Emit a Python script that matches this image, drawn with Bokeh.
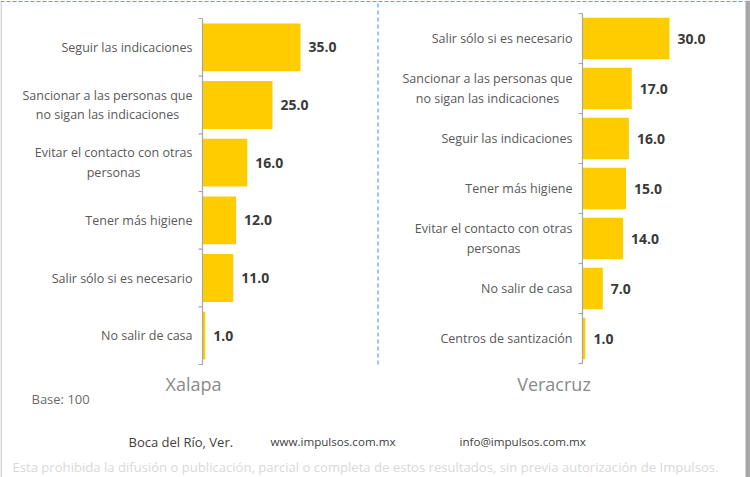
import numpy as np
from bokeh.plotting import figure
from bokeh.models import Range1d, ColumnDataSource
from bokeh.core.properties import value
from bokeh.embed import file_html
from bokeh.resources import INLINE

# ---------------- data ----------------
xalapa_labels = [
    "Seguir las indicaciones",
    "Sancionar a las personas que\nno sigan las indicaciones",
    "Evitar el contacto con otras\npersonas",
    "Tener más higiene",
    "Salir sólo si es necesario",
    "No salir de casa",
]
xalapa_values = [35.0, 25.0, 16.0, 12.0, 11.0, 1.0]

veracruz_labels = [
    "Salir sólo si es necesario",
    "Sancionar a las personas que\nno sigan las indicaciones",
    "Seguir las indicaciones",
    "Tener más higiene",
    "Evitar el contacto con otras\npersonas",
    "No salir de casa",
    "Centros de santización",
]
veracruz_values = [30.0, 17.0, 16.0, 15.0, 14.0, 7.0, 1.0]

titles = ["Xalapa", "Veracruz"]
base_note = "Base: 100"
footer_place = "Boca del Río, Ver."
footer_links = ["www.impulsos.com.mx", "info@impulsos.com.mx"]
disclaimer = ("Esta prohibida la difusión o publicación, parcial o completa de estos "
              "resultados, sin previa autorización de Impulsos.")

# ---------------- style ----------------
W, H = 750, 477
FONT = value("Open Sans")
BAR_COLOR = "#FFCC00"
LABEL_COLOR = "#595959"
VALUE_COLOR = "#3a3a3a"
AXIS_COLOR = "#a6a6a6"
BLUE = "#6a9bd8"

p = figure(width=W, height=H, output_backend="svg", toolbar_location=None,
           x_range=Range1d(0, W), y_range=Range1d(H, 0),
           min_border=0, outline_line_color=None)
p.axis.visible = False
p.grid.visible = False
p.background_fill_color = "white"
p.border_fill_color = "white"

# chart geometry (pixel positions of axis and category band)
charts = [
    dict(name="l", labels=xalapa_labels, values=xalapa_values,
         axis_px=202, top_px=18, bottom_px=364, ppu=2.8, title_x=193),
    dict(name="r", labels=veracruz_labels, values=veracruz_values,
         axis_px=582, top_px=13, bottom_px=363, ppu=2.9, title_x=553.5),
]

for c in charts:
    n = len(c["labels"])
    step = (c["bottom_px"] - c["top_px"]) / n
    xr = c["name"] + "x"
    yr = c["name"] + "y"
    p.extra_x_ranges[xr] = Range1d(-c["axis_px"] / c["ppu"], (W - c["axis_px"]) / c["ppu"])
    p.extra_y_ranges[yr] = Range1d((H - c["top_px"]) / step, -c["top_px"] / step)

    idx = np.arange(n) + 0.5
    src = ColumnDataSource(dict(y=idx, v=c["values"], lab=c["labels"],
                                txt=[f"{v:.1f}" for v in c["values"]]))
    p.hbar(y="y", left=0, right="v", height=0.83, source=src,
           fill_color=BAR_COLOR, line_color=None,
           x_range_name=xr, y_range_name=yr)
    p.text(x="v", y="y", text="txt", source=src, x_offset=8,
           text_font=FONT, text_font_size="14px", text_font_style="bold",
           text_color=VALUE_COLOR, text_baseline="middle", text_align="left",
           x_range_name=xr, y_range_name=yr)
    p.text(x=0, y="y", text="lab", source=src, x_offset=-10,
           anchor=value("center_right"),
           text_font=FONT, text_font_size="12.5px", text_color=LABEL_COLOR,
           text_baseline="middle", text_align="center", text_line_height=1.15,
           x_range_name=xr, y_range_name=yr)
    # axis line + boundary ticks
    bounds = np.arange(n + 1)
    p.segment(x0=[0], y0=[0], x1=[0], y1=[n], line_color=AXIS_COLOR, line_width=1.2,
              x_range_name=xr, y_range_name=yr)
    p.segment(x0=-4 / c["ppu"], y0=bounds, x1=0, y1=bounds, line_color=AXIS_COLOR,
              line_width=1.2, x_range_name=xr, y_range_name=yr)

# titles under each chart
p.text(x=[c["title_x"] for c in charts], y=[383, 383], text=titles,
       text_font=FONT, text_font_size="18px", text_color="#8a8a8a",
       text_align="center", text_baseline="middle")

p.text(x=[31], y=[398], text=[base_note], text_font=FONT, text_font_size="13px",
       text_color="#6b6b6b", text_align="left", text_baseline="middle")

p.text(x=[128], y=[441], text=[footer_place], text_font=FONT,
       text_font_size="13px", text_color="#404040", text_align="left",
       text_baseline="middle")
p.text(x=[270, 459], y=[441, 441], text=footer_links, text_font=FONT,
       text_font_size="11.6px", text_color="#404040", text_align="left",
       text_baseline="middle")

p.text(x=[12], y=[466], text=[disclaimer], text_font=FONT, text_font_size="13.1px",
       text_color="#d9d9d9", text_align="left", text_baseline="middle")

# frame decorations
p.segment(x0=[0], y0=[1], x1=[745], y1=[1], line_color=BLUE, line_width=1.2,
          line_dash="4 2")
p.segment(x0=[377.5], y0=[3], x1=[377.5], y1=[365], line_color=BLUE, line_width=1.2,
          line_dash="4 3")
p.segment(x0=[0.5], y0=[0], x1=[0.5], y1=[H], line_color="#b4b4b4", line_width=1)
p.segment(x0=[747.5], y0=[0], x1=[747.5], y1=[H], line_color="#a6a6a6", line_width=5)

open("out.html", "w").write(file_html(p, INLINE))
